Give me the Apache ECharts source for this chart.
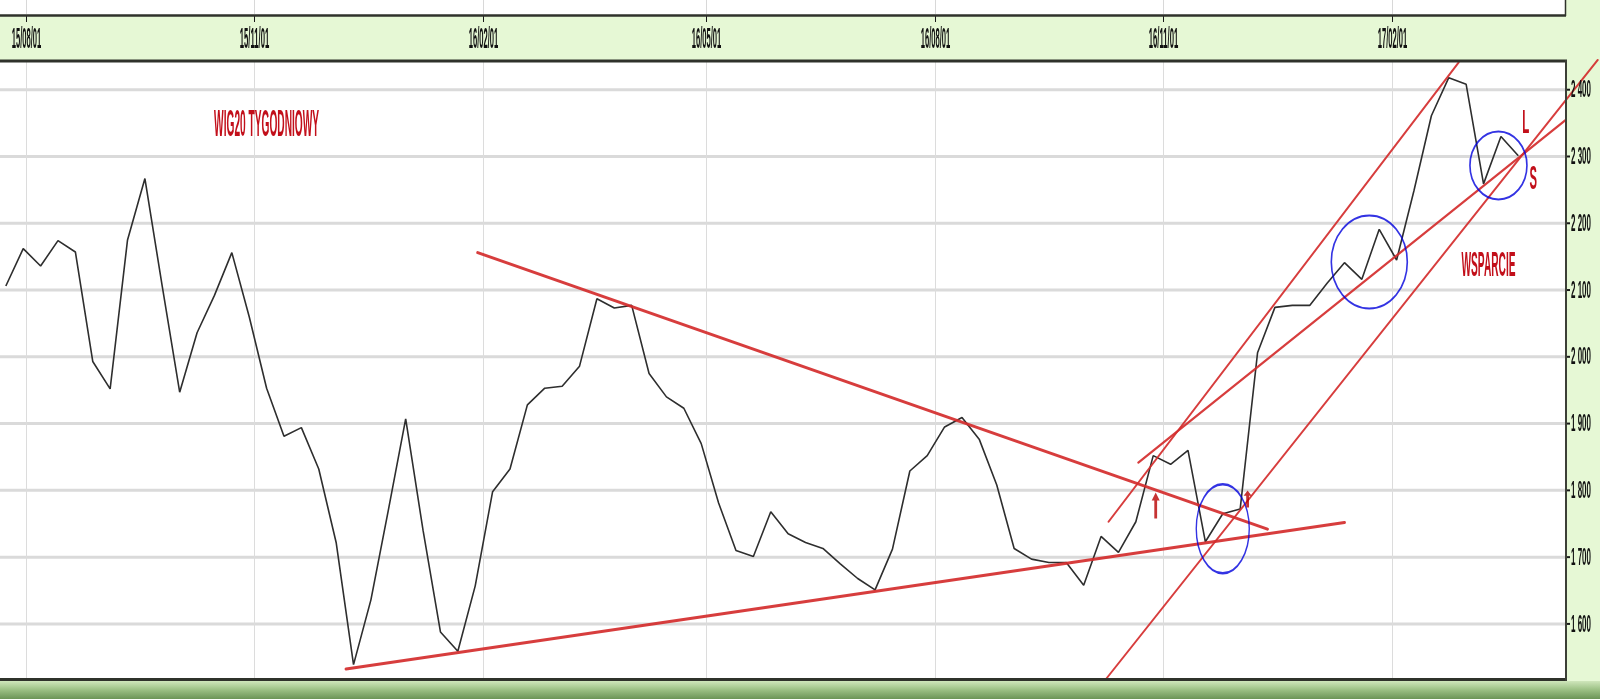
<!DOCTYPE html>
<html>
<head>
<meta charset="utf-8">
<script src="https://cdn.jsdelivr.net/npm/echarts@6/dist/echarts.min.js"></script>
<style>
html,body{margin:0;padding:0;background:#e6f8d5;}
#chart{width:1600px;height:699px;}
</style>
</head>
<body>
<div id="chart"></div>
<script>
// ---------- DATA ----------
const weekDates = [
  '2015-07-24','2015-07-31','2015-08-07','2015-08-14','2015-08-21','2015-08-28','2015-09-04','2015-09-11','2015-09-18','2015-09-25',
  '2015-10-02','2015-10-09','2015-10-16','2015-10-23','2015-10-30','2015-11-06','2015-11-13','2015-11-20','2015-11-27','2015-12-04',
  '2015-12-11','2015-12-18','2015-12-25','2016-01-01','2016-01-08','2016-01-15','2016-01-22','2016-01-29','2016-02-05','2016-02-12',
  '2016-02-19','2016-02-26','2016-03-04','2016-03-11','2016-03-18','2016-03-25','2016-04-01','2016-04-08','2016-04-15','2016-04-22',
  '2016-04-29','2016-05-06','2016-05-13','2016-05-20','2016-05-27','2016-06-03','2016-06-10','2016-06-17','2016-06-24','2016-07-01',
  '2016-07-08','2016-07-15','2016-07-22','2016-07-29','2016-08-05','2016-08-12','2016-08-19','2016-08-26','2016-09-02','2016-09-09',
  '2016-09-16','2016-09-23','2016-09-30','2016-10-07','2016-10-14','2016-10-21','2016-10-28','2016-11-04','2016-11-11','2016-11-18',
  '2016-11-25','2016-12-02','2016-12-09','2016-12-16','2016-12-23','2016-12-30','2017-01-06','2017-01-13','2017-01-20','2017-01-27',
  '2017-02-03','2017-02-10','2017-02-17','2017-02-24','2017-03-03','2017-03-10','2017-03-17','2017-03-24'
];
const wig20Close = [
  2106,2162,2136,2174,2157,1993,1952,2175,2267,2105,
  1947,2036,2092,2156,2060,1953,1881,1894,1832,1722,
  1539,1636,1770,1907,1740,1588,1559,1657,1798,1832,
  1928,1953,1956,1986,2087,2073,2077,1975,1940,1923,
  1870,1781,1710,1701,1768,1735,1722,1713,1690,1668,
  1651,1712,1829,1852,1895,1909,1876,1808,1713,1697,
  1692,1692,1658,1731,1707,1753,1852,1839,1860,1723,
  1765,1772,2006,2074,2077,2077,2110,2141,2116,2191,
  2145,2249,2361,2418,2408,2259,2330,2301
];
const xTickDates = ['2015-08-01','2015-11-01','2016-02-01','2016-05-01','2016-08-01','2016-11-01','2017-02-01'];
const xTickLabels = ['15/08/01','15/11/01','16/02/01','16/05/01','16/08/01','16/11/01','17/02/01'];
const yTickValues = [1600,1700,1800,1900,2000,2100,2200,2300,2400];
const yTickLabels = ['1 600','1 700','1 800','1 900','2 000','2 100','2 200','2 300','2 400'];

// annotations (date, value)
const resistanceLine = [['2016-01-30',2156],['2016-12-13',1742]];
const supportLine    = [['2015-12-08',1532.5],['2017-01-13',1752]];
const channelUpper   = [['2016-10-10',1753],['2017-02-28',2441]];
const channelMiddle  = [['2016-10-22',1841.5],['2017-04-12',2354.6]];
const channelLower   = [['2016-10-09',1517.5],['2017-04-25',2444.5]];
const circleCenters  = [['2016-11-25',1742.5],['2017-01-23',2142],['2017-03-16',2286.5]];
const arrowPoints    = [['2016-10-29',1777.4],['2016-12-05',1787]];
const noteTexts      = ['WIG20 TYGODNIOWY','WSPARCIE','L','S'];
const notePoints     = [['2015-11-06',2345.6],['2017-03-12',2136],['2017-03-27',2349.4],['2017-03-30',2264.8]];

// ---------- helpers / styles ----------
const DAY = 86400000;
function ts(s){ const p = s.split('-').map(Number); return new Date(p[0], p[1]-1, p[2]).getTime(); }
const axisOrigin = ts('2015-08-01');
const xMin = axisOrigin - 10.35*DAY;
const xMax = axisOrigin + 619.8*DAY;
const yMin = 1519, yMax = 2441.5;

const mctx = document.createElement('canvas').getContext('2d');
function squeeze(text, font, w){ mctx.font = font; const m = mctx.measureText(text).width; return m > 0 ? w/m : 0.3; }

const trendLines = [resistanceLine, supportLine, channelUpper, channelMiddle, channelLower];
const trendWidths = [3, 3, 2, 2.2, 2];
const circleSizes = [[53,89],[76,93],[57,68]];
const arrowSizes = [[8,26],[8,17]];
const noteStyle = [
  {size:36, width:105},
  {size:35, width:54},
  {size:33, width:7},
  {size:33, width:7.5}
];
const RED = '#d42c2c';
const TEXT_RED = '#c20f1a';
const BORDER = '#2f322b';

const chart = echarts.init(document.getElementById('chart'));
const option = {
  backgroundColor:'#e6f8d5',
  animation:false,
  grid:{left:0, right:35, top:62, bottom:21, show:true, backgroundColor:'#ffffff', borderWidth:0, containLabel:false},
  xAxis:{type:'time', min:xMin, max:xMax, axisLine:{show:false}, axisTick:{show:false}, axisLabel:{show:false}, splitLine:{show:false}},
  yAxis:{type:'value', min:yMin, max:yMax, position:'right', axisLine:{show:false}, axisTick:{show:false}, axisLabel:{show:false}, splitLine:{show:false}},
  graphic:[
    {type:'rect', shape:{x:0,y:0,width:1565,height:15}, style:{fill:'#ffffff'}, z:0, silent:true},
    {type:'line', shape:{x1:0,y1:15.5,x2:1566,y2:15.5}, style:{stroke:BORDER, lineWidth:2.5}, z:100, silent:true},
    {type:'line', shape:{x1:1565.5,y1:0,x2:1565.5,y2:16}, style:{stroke:BORDER, lineWidth:1.5}, z:100, silent:true},
    {type:'line', shape:{x1:0,y1:61,x2:1567,y2:61}, style:{stroke:BORDER, lineWidth:3}, z:100, silent:true},
    {type:'line', shape:{x1:0,y1:679.5,x2:1567,y2:679.5}, style:{stroke:BORDER, lineWidth:3}, z:100, silent:true},
    {type:'line', shape:{x1:1566,y1:60,x2:1566,y2:681}, style:{stroke:'#3c3f37', lineWidth:2}, z:100, silent:true},
    {type:'rect', shape:{x:0,y:681,width:1600,height:18}, z:100, silent:true,
      style:{fill:{type:'linear',x:0,y:0,x2:0,y2:1,colorStops:[{offset:0,color:'#cfe6bb'},{offset:0.45,color:'#9fc388'},{offset:1,color:'#6b9457'}]}}}
  ],
  series:[
    // horizontal gridlines
    {
      type:'custom', silent:true, z:1, clip:false,
      data: yTickValues.map(v => [xMin, v]),
      renderItem:(params, api) => {
        const cs = params.coordSys;
        const y = api.coord([xMin, api.value(1)])[1];
        return {type:'line', shape:{x1:cs.x, y1:y, x2:cs.x+cs.width, y2:y}, style:{stroke:'#dadada', lineWidth:3}};
      }
    },
    // vertical gridlines + top axis ticks/labels
    {
      type:'custom', silent:true, z:2, clip:false,
      data: xTickDates.map(d => [d, yMin]),
      renderItem:(params, api) => {
        const cs = params.coordSys;
        const x = Math.round(api.coord([api.value(0), yMin])[0]) + 0.5;
        const lbl = xTickLabels[params.dataIndex];
        const font = 'bold 30px "Liberation Sans", Arial, sans-serif';
        return {type:'group', children:[
          {type:'line', shape:{x1:x, y1:cs.y, x2:x, y2:cs.y+cs.height}, style:{stroke:'#dcdcdc', lineWidth:1}},
          {type:'line', shape:{x1:x, y1:0, x2:x, y2:14}, style:{stroke:'#d8d8d8', lineWidth:1}},
          {type:'line', shape:{x1:x, y1:16, x2:x, y2:22}, style:{stroke:'#1a1a1a', lineWidth:1}},
          {type:'text', x:x, y:40, scaleX:squeeze(lbl, font, 29.5),
            style:{text:lbl, font:font, fill:'#111111', align:'center', verticalAlign:'middle'}}
        ]};
      }
    },
    // right axis ticks/labels
    {
      type:'custom', silent:true, z:10, clip:false,
      data: yTickValues.map(v => [xMax, v]),
      renderItem:(params, api) => {
        const cs = params.coordSys;
        const y = api.coord([xMax, api.value(1)])[1];
        const x = cs.x + cs.width + 1;
        const lbl = yTickLabels[params.dataIndex];
        const font = 'bold 24px "Liberation Sans", Arial, sans-serif';
        return {type:'group', children:[
          {type:'line', shape:{x1:x, y1:y, x2:x+4, y2:y}, style:{stroke:'#1a1a1a', lineWidth:2}},
          {type:'text', x:x+5, y:y+1, scaleX:squeeze(lbl, font, 20),
            style:{text:lbl, font:font, fill:'#111111', align:'left', verticalAlign:'middle'}}
        ]};
      }
    },
    // price line
    {
      name:'WIG20', type:'line', z:3, silent:true,
      data: weekDates.map((d,i) => [d, wig20Close[i]]),
      showSymbol:false, symbol:'none',
      lineStyle:{color:'#2e2e2e', width:1.6}
    },
    // red trend lines (drawn through the axes' scales)
    {
      type:'custom', silent:true, z:4, clip:false,
      data: trendLines.map(l => [l[0][0], l[0][1], l[1][0], l[1][1]]),
      dimensions:[{name:'x1',type:'time'},{name:'y1',type:'float'},{name:'x2',type:'time'},{name:'y2',type:'float'}],
      encode:{x:[0,2], y:[1,3]},
      renderItem:(params, api) => {
        const l = trendLines[params.dataIndex];
        const a = api.coord([ts(l[0][0]), l[0][1]]);
        const b = api.coord([ts(l[1][0]), l[1][1]]);
        return {type:'line', shape:{x1:a[0], y1:a[1], x2:b[0], y2:b[1]},
          style:{stroke:RED, lineWidth:trendWidths[params.dataIndex], opacity:0.92, lineCap:'round'}};
      }
    },
    // blue ellipses
    {
      type:'scatter', z:6, silent:true, clip:false,
      data: circleCenters.map((p,i) => ({value:p, symbolSize:circleSizes[i]})),
      symbol:'circle',
      itemStyle:{color:'rgba(0,0,0,0)', borderColor:'#0000dc', borderWidth:1.8}
    },
    // red arrows
    {
      type:'scatter', z:6, silent:true, clip:false,
      data: arrowPoints.map((p,i) => ({value:p, symbolSize:arrowSizes[i]})),
      symbol:'path://M4,0 L8,8 L5.4,8 L5.4,26 L2.6,26 L2.6,8 L0,8 Z',
      itemStyle:{color:'#b80000'}
    },
    // red notes
    {
      type:'custom', silent:true, z:7, clip:false,
      data: notePoints,
      renderItem:(params, api) => {
        const p = api.coord([api.value(0), api.value(1)]);
        const st = noteStyle[params.dataIndex];
        const txt = noteTexts[params.dataIndex];
        const font = 'bold ' + st.size + 'px "Liberation Sans", Arial, sans-serif';
        return {type:'text', x:p[0], y:p[1], scaleX:squeeze(txt, font, st.width),
          style:{text:txt, font:font, fill:TEXT_RED, align:'center', verticalAlign:'middle'}};
      }
    }
  ]
};
chart.setOption(option);
</script>
</body>
</html>
